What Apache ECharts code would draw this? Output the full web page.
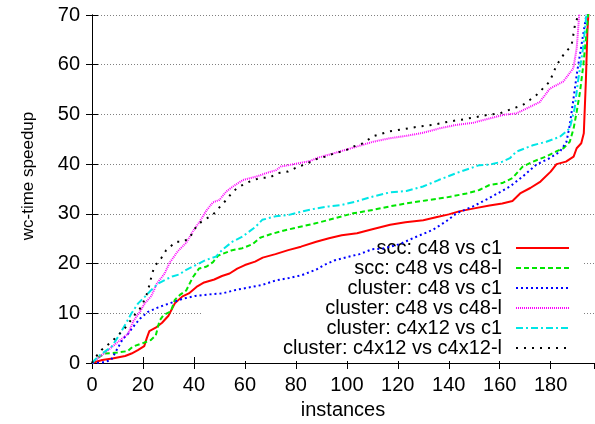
<!DOCTYPE html>
<html lang="en">

<head>
    <meta charset="UTF-8">
    <title>wc-time speedup</title>
    <script src="https://cdn.jsdelivr.net/npm/echarts@6/dist/echarts.min.js"></script>
    <style>
        * {
            margin: 0;
            padding: 0
        }

        html,
        body {
            width: 595px;
            height: 424px;
            background: #fff;
        }
    </style>
</head>

<body>
    <div id="main" style="width:595px;height:424px"></div>

    <script>
        // [instance, speedup], sorted curves
        var sccC48vsC1 = [[0, 0], [4, 0.6], [8, 0.9], [13, 1.4], [15.5, 1.9], [18, 2.6], [20.5, 3.4], [21.5, 5], [22.5, 6.4], [25, 7.1], [27.5, 8.1], [30, 9.5], [31.5, 11], [32.5, 12], [35.5, 13.4], [38, 14], [41, 15.3], [44, 16.2], [48, 16.8], [51, 17.5], [54, 18], [57, 19], [60, 19.7], [64, 20.4], [67, 21.2], [72, 21.9], [77, 22.7], [82, 23.4], [88, 24.4], [93, 25.1], [98, 25.7], [104, 26.1], [110, 26.9], [117, 27.8], [123, 28.3], [130, 28.7], [135, 29.3], [140, 29.9], [144, 30.5], [150, 31.1], [156, 31.7], [161, 32.1], [165, 32.6], [168, 34.1], [172, 35.2], [176, 36.5], [180, 38.5], [182.3, 40], [186, 40.5], [189, 41.5], [190.2, 43.2], [192, 44.2], [193, 46.2], [193.8, 56.6], [194.4, 66.6], [195, 72], [196, 90]];
        var sccC48vsC48l = [[0, 0], [2, 1.0], [5, 1.9], [10, 2.1], [14, 2.4], [16, 3.3], [20, 4.0], [23, 4.6], [25, 5.5], [26.5, 8.5], [28, 9.6], [31, 10.4], [32.5, 12.7], [34.5, 13.7], [37, 14.6], [39.5, 17.2], [42, 19.0], [45, 19.4], [47.5, 20.3], [49.5, 21.6], [52, 22.1], [55, 22.7], [59, 23.1], [63, 23.9], [66, 25.2], [70, 25.9], [75, 26.6], [80, 27.2], [87, 28], [93, 28.8], [98, 29.5], [102.4, 30.1], [110.3, 30.8], [116.8, 31.5], [123.4, 32.1], [131, 32.7], [139, 33.3], [147, 34.1], [152, 34.8], [156, 35.8], [161, 36.2], [165, 37.2], [169, 39.5], [173, 40.5], [178, 41.5], [182, 42.5], [185, 43.2], [187.5, 44.5], [189, 47.2], [190.2, 50.5], [191.5, 54.5], [192.8, 59.9], [194.1, 66.6], [195, 72], [196, 90]];
        var clusterC48vsC1 = [[0, 0], [4, 0.1], [7.5, 0.6], [10.3, 3.2], [12.2, 4.9], [14.2, 5.9], [16.2, 7.3], [18.8, 8.9], [22, 10.3], [26, 11.2], [31, 12.1], [35.5, 12.9], [40.5, 13.5], [46, 13.8], [51.2, 14], [56.4, 14.7], [61.6, 15.2], [66.8, 15.7], [72, 16.6], [77.3, 17.1], [82.5, 17.7], [88, 18.8], [91, 19.7], [95, 20.6], [100, 21.3], [105, 21.9], [110, 22.9], [114, 23], [120.7, 23.9], [127.3, 25.4], [133.8, 26.8], [139, 28.5], [143, 30.1], [149.5, 31.5], [156, 33.2], [164, 35.5], [169, 37.5], [174.4, 39.9], [179.6, 41.2], [183.6, 42.5], [186.2, 44.5], [187.5, 47.9], [188.8, 52.6], [190.4, 58.6], [192.1, 64], [194, 70], [195, 85]];
        var clusterC48vsC48l = [[0, 0], [2.4, 1.0], [6.4, 2.6], [10.3, 4.3], [14.2, 5.9], [16.2, 8.4], [18.8, 10.3], [20.7, 12], [23.3, 13.5], [25.5, 16], [28.5, 18], [30.5, 20.2], [33.7, 22.5], [37, 24.2], [39.6, 26.5], [42.2, 28.4], [44.8, 30.6], [47.4, 32.3], [50, 32.8], [52.7, 34.5], [55.3, 35.5], [59.2, 36.8], [64.5, 37.5], [68.4, 38.2], [72.3, 38.8], [74, 39.5], [80.2, 40.1], [85.4, 40.6], [88.7, 41.3], [93, 41.9], [97, 42.5], [103.7, 43.5], [110.3, 44.5], [116.8, 45.2], [123.4, 45.7], [129.9, 46.3], [136.4, 47.2], [143, 47.9], [149.5, 48.3], [156, 49.2], [161.3, 49.9], [166.5, 50.2], [171.8, 51.5], [175.7, 52.5], [179.7, 55.2], [184.9, 56.6], [188.9, 59.3], [190.2, 63.3], [190.8, 67.3], [191.2, 70], [192, 85]];
        var clusterC4x12vsC1 = [[0, 0], [2.4, 1.3], [5, 2.3], [7.7, 3.3], [10.3, 5.3], [12.9, 7.6], [15.5, 10], [18.1, 12], [20.7, 13.3], [23.3, 14.7], [26, 16], [29, 16.8], [31.5, 17.4], [34.2, 17.8], [36.8, 18.7], [40.7, 19.7], [44.6, 20.7], [48.6, 21.4], [51.2, 22.8], [55.1, 24.4], [59, 25.4], [64.2, 27.4], [66.8, 28.8], [72, 29.5], [77.3, 29.8], [82.5, 30.5], [88, 31.1], [93, 31.5], [98, 31.8], [103.7, 32.5], [110.3, 33.5], [116.8, 34.3], [123.4, 34.6], [129.9, 35.5], [136, 36.8], [143, 38.2], [152, 39.8], [156, 39.9], [161, 40.5], [164, 41.2], [166.5, 42.5], [173, 43.8], [178.3, 44.5], [183.6, 45.5], [187.5, 47.2], [189.4, 51.2], [190.7, 56.6], [192.7, 63.3], [194, 70], [195, 85]];
        var clusterC4x12vsC4x12l = [[0, 0], [1.1, 1.0], [3.7, 2.6], [7.7, 4.3], [10.3, 5.6], [12.9, 7.0], [16.8, 9.7], [19.4, 11.3], [21.4, 13.7], [22.7, 16], [23.5, 17.8], [24.5, 19.4], [27.2, 21.1], [29.1, 22.7], [33, 24.4], [35.7, 24.4], [38.3, 25.1], [39.6, 26.4], [40.9, 27.4], [42.9, 28.4], [44.8, 29], [47.4, 29.8], [50, 31.3], [52.7, 32.8], [55.3, 34.5], [57.9, 35.5], [61.9, 36.5], [65.8, 37.2], [69.7, 37.3], [73, 38.2], [76.9, 38.5], [80.9, 39.5], [84.1, 40], [87.4, 40.9], [91.4, 41.5], [95.3, 42.2], [99.3, 42.7], [102.4, 43.5], [106.4, 44.2], [110.3, 45.6], [116.8, 46.6], [122, 47], [128.6, 47.6], [133.8, 47.9], [140.4, 48.6], [145.6, 49], [152.1, 49.6], [156, 50], [160, 50.2], [165.2, 51.2], [169.1, 51.9], [174.4, 53.9], [179.6, 56.6], [182.3, 59.9], [184.9, 61.9], [188.2, 63.9], [189.5, 67.9], [190.8, 70], [191.5, 80]];

        var seriesNames = ['scc: c48 vs c1', 'scc: c48 vs c48-l', 'cluster: c48 vs c1',
            'cluster: c48 vs c48-l', 'cluster: c4x12 vs c1', 'cluster: c4x12 vs c4x12-l'];
        var seriesData = [sccC48vsC1, sccC48vsC48l, clusterC48vsC1, clusterC48vsC48l, clusterC4x12vsC1, clusterC4x12vsC4x12l];

        var FONT = 'Liberation Sans';
        var lineLooks = [
            { color: '#ff0000', width: 2, type: 'solid' },
            { color: '#00e600', width: 2, type: [5, 3] },
            { color: '#0000ff', width: 2, type: [2, 3] },
            { color: '#ff00ff', width: 2, type: [1, 1] },
            { color: '#00e6e6', width: 2, type: [7, 3, 2, 3] },
            { color: '#000000', width: 2, type: [2, 6] }
        ];

        var tickStyle = { inside: true, length: 6, lineStyle: { color: '#000' } };
        var lineBlack = { lineStyle: { color: '#000', width: 1 } };

        var chart = echarts.init(document.getElementById('main'), null, { renderer: 'canvas' });
        chart.setOption({
            animation: false,
            backgroundColor: '#fff',
            textStyle: { fontFamily: FONT },
            grid: { left: 92, right: 1, top: 15, bottom: 61 },
            legend: {
                orient: 'vertical',
                align: 'right',
                right: 13,
                top: 235,
                z: 1,
                padding: [3, 12, 3, 80],
                backgroundColor: '#fff',
                itemWidth: 53,
                itemHeight: 14,
                itemGap: 0,
                // line sample only, hide the symbol drawn on top of it
                itemStyle: { opacity: 0, color: 'rgba(0,0,0,0)', borderWidth: 0 },
                textStyle: { fontFamily: FONT, fontSize: 20, color: '#000', lineHeight: 20, padding: [0, 9, 0, 0] },
                data: seriesNames
            },
            xAxis: [{
                type: 'value', min: 0, max: 197, interval: 20, position: 'bottom',
                axisLine: lineBlack, axisTick: tickStyle,
                axisLabel: { color: '#000', fontSize: 20, margin: 12, fontFamily: FONT, showMaxLabel: false },
                splitLine: { show: false }
            }, {
                type: 'value', min: 0, max: 197, interval: 20, position: 'top',
                axisLine: lineBlack, axisTick: tickStyle,
                axisLabel: { show: false }, splitLine: { show: false }
            }],
            yAxis: [{
                type: 'value', min: 0, max: 70, interval: 10, position: 'left',
                axisLine: { show: true, lineStyle: { color: '#000', width: 1 } }, axisTick: tickStyle,
                axisLabel: { color: '#000', fontSize: 20, margin: 12, fontFamily: FONT },
                splitLine: { show: true, lineStyle: { color: '#808080', width: 1, type: [1, 2] } }
            }, {
                type: 'value', min: 0, max: 70, interval: 10, position: 'right',
                axisLine: { show: true, lineStyle: { color: '#000', width: 1 } }, axisTick: tickStyle,
                axisLabel: { show: false }, splitLine: { show: false }
            }],
            graphic: [{
                type: 'text', x: 343, y: 410,
                style: { text: 'instances', fontFamily: FONT, fontSize: 20, fill: '#000', align: 'center', verticalAlign: 'middle' }
            }, {
                type: 'text', x: 28, y: 176, rotation: Math.PI / 2,
                style: { text: 'wc-time speedup', fontFamily: FONT, fontSize: 17, fill: '#000', align: 'center', verticalAlign: 'middle' }
            }],
            series: seriesData.map(function (d, i) {
                return {
                    name: seriesNames[i],
                    type: 'line',
                    data: d,
                    symbol: 'none',
                    showSymbol: false,
                    clip: true,
                    z: 2,
                    color: lineLooks[i].color,
                    lineStyle: { color: lineLooks[i].color, width: lineLooks[i].width, type: lineLooks[i].type }
                };
            })
        });
    </script>
</body>

</html>
